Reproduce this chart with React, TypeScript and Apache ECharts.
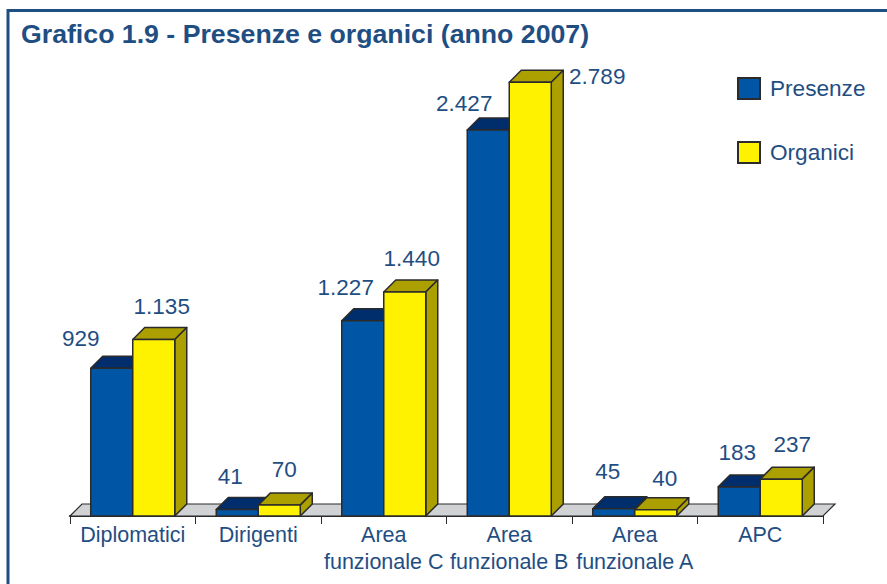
import React, { useEffect, useRef } from "react";
import * as echarts from "echarts";

const categories = ["Diplomatici", "Dirigenti", "Area\nfunzionale C", "Area\nfunzionale B", "Area\nfunzionale A", "APC"];
const presenze = [929, 41, 1227, 2427, 45, 183];
const organici = [1135, 70, 1440, 2789, 40, 237];

const labelOffsetsPresenze = [[-31, -30], [-7, -33], [-17, -33], [-24, -27], [-6, -37], [-2, -34]];
const labelOffsetsOrganici = [[8, -33], [5, -36], [7, -34], [67, -6], [9, -31], [11, -35]];

const INK = "#1f4e83";
const STROKE = "#2b2b2b";
const DEPTH = 12;
const FONT = '"Liberation Sans", Arial, sans-serif';

const fmt = (v: number) => String(v).replace(/\B(?=(\d{3})+$)/g, ".");

function boxSeries(name: string, data: number[], side: -1 | 1, front: string, dark: string, offsets: number[][], yAxisIndex: number) {
  return {
    type: "custom",
    name,
    coordinateSystem: "cartesian2d",
    yAxisIndex,
    itemStyle: { color: front, borderColor: STROKE, borderWidth: 1.5 },
    encode: { x: 0, y: 1 },
    data: data.map((v, i) => [i, v]),
    clip: false,
    renderItem: (_p: any, api: any) => {
      const i = api.value(0);
      const v = api.value(1);
      const top = api.coord([i, v]);
      const base = api.coord([i, 0]);
      const bw = api.size([1, 0])[0] * 0.3347;
      const x0 = side < 0 ? top[0] - bw : top[0];
      const x1 = x0 + bw;
      const y0 = top[1];
      const y1 = base[1];
      const st = { stroke: STROKE, lineWidth: 1.5, lineJoin: "round" };
      return {
        type: "group",
        children: [
          { type: "polygon", shape: { points: [[x0, y0], [x0 + DEPTH, y0 - DEPTH], [x1 + DEPTH, y0 - DEPTH], [x1, y0]] }, style: { fill: dark, ...st } },
          { type: "polygon", shape: { points: [[x1, y0], [x1 + DEPTH, y0 - DEPTH], [x1 + DEPTH, y1 - DEPTH], [x1, y1]] }, style: { fill: dark, ...st } },
          { type: "rect", shape: { x: x0, y: y0, width: bw, height: y1 - y0 }, style: { fill: front, ...st } },
          {
            type: "text",
            z2: 100,
            x: (x0 + x1) / 2 + offsets[i][0],
            y: y0 + offsets[i][1],
            style: { text: fmt(v), fill: INK, font: `22.5px ${FONT}`, align: "center", verticalAlign: "middle" },
          },
        ],
      };
    },
  };
}

export default function App() {
  const ref = useRef<HTMLDivElement>(null);
  useEffect(() => {
    const chart = echarts.init(ref.current!, undefined, { renderer: "svg" });
    chart.setOption({
      animation: false,
      backgroundColor: "#ffffff",
      title: {
        text: "Grafico 1.9 - Presenze e organici (anno 2007)",
        left: 21,
        top: 20,
        padding: 0,
        textStyle: { color: INK, fontFamily: FONT, fontWeight: "bold", fontSize: 26.7 },
      },
      legend: {
        data: ["Presenze", "Organici"],
        orient: "vertical",
        left: 737,
        top: 77,
        padding: 0,
        itemWidth: 22,
        itemHeight: 21,
        itemGap: 41,
        icon: "rect",
        textStyle: { color: INK, fontFamily: FONT, fontSize: 22.6, padding: [0, 0, 0, 5] },
      },
      grid: { left: 70, top: 65, width: 753, height: 451, containLabel: false },
      xAxis: {
        type: "category",
        data: categories,
        axisLine: { lineStyle: { color: "#2b2b2b", width: 2 } },
        axisTick: { show: true, length: 8, lineStyle: { color: "#2b2b2b", width: 1 } },
        axisLabel: { interval: 0, color: INK, fontFamily: FONT, fontSize: 21.5, lineHeight: 27, margin: 5, hideOverlap: false },
      },
      // The reference draws the blue bars slightly taller than the yellow ones
      // for the same value, so each series has its own hidden scale.
      yAxis: [
        { type: "value", min: 0, max: 2900, show: false },
        { type: "value", min: 0, max: 2836, show: false },
      ],
      graphic: [
        {
          type: "polyline",
          silent: true,
          shape: { points: [[8, 584], [8, 10.5], [887, 10.5]] },
          style: { fill: "none", stroke: INK, lineWidth: 3 },
        },
      ],
      series: [
        {
          type: "custom",
          coordinateSystem: "cartesian2d",
          silent: true,
          data: [[0, 0]],
          renderItem: (p: any) => {
            const c = p.coordSys;
            const yb = c.y + c.height;
            return {
              type: "polygon",
              shape: { points: [[c.x, yb], [c.x + DEPTH, yb - DEPTH], [c.x + c.width + DEPTH, yb - DEPTH], [c.x + c.width, yb]] },
              style: { fill: "#d1d2d4", stroke: STROKE, lineWidth: 1.2 },
            };
          },
        },
        boxSeries("Presenze", presenze, -1, "#0056a4", "#002d6b", labelOffsetsPresenze, 1),
        boxSeries("Organici", organici, 1, "#fff200", "#ac9f00", labelOffsetsOrganici, 0),
      ],
    });
    return () => chart.dispose();
  }, []);
  return <div ref={ref} style={{ position: "fixed", left: 0, top: 0, width: 887, height: 584 }} />;
}
